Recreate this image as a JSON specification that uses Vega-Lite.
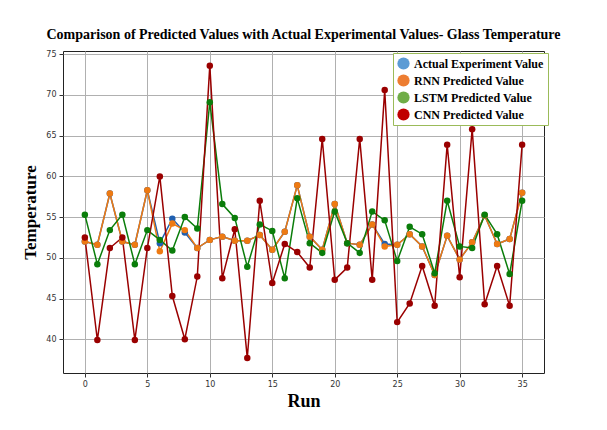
{
  "$schema": "https://vega.github.io/schema/vega-lite/v6.json",
  "width": 481,
  "height": 322,
  "autosize": {"type": "none"},
  "padding": {"left": 63, "top": 51, "right": 63, "bottom": 57},
  "background": "white",
  "title": {
    "text": "Comparison of Predicted Values with Actual Experimental Values- Glass Temperature",
    "font": "Liberation Serif",
    "fontSize": 14,
    "fontWeight": "bold",
    "color": "black",
    "anchor": "middle",
    "offset": 8
  },
  "config": {
    "view": {"stroke": "#222", "strokeWidth": 1},
    "axis": {
      "gridColor": "#b0b0b0",
      "gridWidth": 1,
      "domain": false,
      "tickColor": "#333",
      "tickSize": 4,
      "labelFont": "DejaVu Sans",
      "labelFontSize": 8,
      "labelColor": "#333",
      "titleFont": "Liberation Serif",
      "titleFontWeight": "bold",
      "titleColor": "black"
    }
  },
  "resolve": {"legend": {"color": "independent", "fill": "independent"}},
  "data": {
    "values": [
      {"run": 0, "series": "Actual Experiment Value", "value": 52.0},
      {"run": 1, "series": "Actual Experiment Value", "value": 51.6},
      {"run": 2, "series": "Actual Experiment Value", "value": 57.9},
      {"run": 3, "series": "Actual Experiment Value", "value": 52.0},
      {"run": 4, "series": "Actual Experiment Value", "value": 51.6},
      {"run": 5, "series": "Actual Experiment Value", "value": 58.3},
      {"run": 6, "series": "Actual Experiment Value", "value": 51.8},
      {"run": 7, "series": "Actual Experiment Value", "value": 54.8},
      {"run": 8, "series": "Actual Experiment Value", "value": 53.1},
      {"run": 9, "series": "Actual Experiment Value", "value": 51.2},
      {"run": 10, "series": "Actual Experiment Value", "value": 52.2},
      {"run": 11, "series": "Actual Experiment Value", "value": 52.6},
      {"run": 12, "series": "Actual Experiment Value", "value": 52.1},
      {"run": 13, "series": "Actual Experiment Value", "value": 52.1},
      {"run": 14, "series": "Actual Experiment Value", "value": 52.8},
      {"run": 15, "series": "Actual Experiment Value", "value": 51.0},
      {"run": 16, "series": "Actual Experiment Value", "value": 53.2},
      {"run": 17, "series": "Actual Experiment Value", "value": 58.9},
      {"run": 18, "series": "Actual Experiment Value", "value": 52.6},
      {"run": 19, "series": "Actual Experiment Value", "value": 51.0},
      {"run": 20, "series": "Actual Experiment Value", "value": 56.6},
      {"run": 21, "series": "Actual Experiment Value", "value": 51.8},
      {"run": 22, "series": "Actual Experiment Value", "value": 51.6},
      {"run": 23, "series": "Actual Experiment Value", "value": 54.1},
      {"run": 24, "series": "Actual Experiment Value", "value": 51.7},
      {"run": 25, "series": "Actual Experiment Value", "value": 51.6},
      {"run": 26, "series": "Actual Experiment Value", "value": 52.9},
      {"run": 27, "series": "Actual Experiment Value", "value": 51.4},
      {"run": 28, "series": "Actual Experiment Value", "value": 47.9},
      {"run": 29, "series": "Actual Experiment Value", "value": 52.7},
      {"run": 30, "series": "Actual Experiment Value", "value": 49.8},
      {"run": 31, "series": "Actual Experiment Value", "value": 51.9},
      {"run": 32, "series": "Actual Experiment Value", "value": 55.2},
      {"run": 33, "series": "Actual Experiment Value", "value": 51.7},
      {"run": 34, "series": "Actual Experiment Value", "value": 52.3},
      {"run": 35, "series": "Actual Experiment Value", "value": 58.0},
      {"run": 0, "series": "RNN Predicted Value", "value": 52.0},
      {"run": 1, "series": "RNN Predicted Value", "value": 51.6},
      {"run": 2, "series": "RNN Predicted Value", "value": 57.9},
      {"run": 3, "series": "RNN Predicted Value", "value": 52.0},
      {"run": 4, "series": "RNN Predicted Value", "value": 51.6},
      {"run": 5, "series": "RNN Predicted Value", "value": 58.3},
      {"run": 6, "series": "RNN Predicted Value", "value": 50.8},
      {"run": 7, "series": "RNN Predicted Value", "value": 54.2},
      {"run": 8, "series": "RNN Predicted Value", "value": 53.4},
      {"run": 9, "series": "RNN Predicted Value", "value": 51.2},
      {"run": 10, "series": "RNN Predicted Value", "value": 52.2},
      {"run": 11, "series": "RNN Predicted Value", "value": 52.6},
      {"run": 12, "series": "RNN Predicted Value", "value": 52.1},
      {"run": 13, "series": "RNN Predicted Value", "value": 52.1},
      {"run": 14, "series": "RNN Predicted Value", "value": 52.8},
      {"run": 15, "series": "RNN Predicted Value", "value": 51.0},
      {"run": 16, "series": "RNN Predicted Value", "value": 53.2},
      {"run": 17, "series": "RNN Predicted Value", "value": 58.9},
      {"run": 18, "series": "RNN Predicted Value", "value": 52.6},
      {"run": 19, "series": "RNN Predicted Value", "value": 51.0},
      {"run": 20, "series": "RNN Predicted Value", "value": 56.6},
      {"run": 21, "series": "RNN Predicted Value", "value": 51.8},
      {"run": 22, "series": "RNN Predicted Value", "value": 51.6},
      {"run": 23, "series": "RNN Predicted Value", "value": 54.1},
      {"run": 24, "series": "RNN Predicted Value", "value": 51.4},
      {"run": 25, "series": "RNN Predicted Value", "value": 51.6},
      {"run": 26, "series": "RNN Predicted Value", "value": 52.9},
      {"run": 27, "series": "RNN Predicted Value", "value": 51.4},
      {"run": 28, "series": "RNN Predicted Value", "value": 47.9},
      {"run": 29, "series": "RNN Predicted Value", "value": 52.7},
      {"run": 30, "series": "RNN Predicted Value", "value": 49.8},
      {"run": 31, "series": "RNN Predicted Value", "value": 51.9},
      {"run": 32, "series": "RNN Predicted Value", "value": 55.2},
      {"run": 33, "series": "RNN Predicted Value", "value": 51.7},
      {"run": 34, "series": "RNN Predicted Value", "value": 52.3},
      {"run": 35, "series": "RNN Predicted Value", "value": 58.0},
      {"run": 0, "series": "LSTM Predicted Value", "value": 55.3},
      {"run": 1, "series": "LSTM Predicted Value", "value": 49.2},
      {"run": 2, "series": "LSTM Predicted Value", "value": 53.4},
      {"run": 3, "series": "LSTM Predicted Value", "value": 55.3},
      {"run": 4, "series": "LSTM Predicted Value", "value": 49.2},
      {"run": 5, "series": "LSTM Predicted Value", "value": 53.4},
      {"run": 6, "series": "LSTM Predicted Value", "value": 52.2},
      {"run": 7, "series": "LSTM Predicted Value", "value": 50.9},
      {"run": 8, "series": "LSTM Predicted Value", "value": 55.0},
      {"run": 9, "series": "LSTM Predicted Value", "value": 53.6},
      {"run": 10, "series": "LSTM Predicted Value", "value": 69.1},
      {"run": 11, "series": "LSTM Predicted Value", "value": 56.6},
      {"run": 12, "series": "LSTM Predicted Value", "value": 54.9},
      {"run": 13, "series": "LSTM Predicted Value", "value": 48.9},
      {"run": 14, "series": "LSTM Predicted Value", "value": 54.1},
      {"run": 15, "series": "LSTM Predicted Value", "value": 53.3},
      {"run": 16, "series": "LSTM Predicted Value", "value": 47.5},
      {"run": 17, "series": "LSTM Predicted Value", "value": 57.3},
      {"run": 18, "series": "LSTM Predicted Value", "value": 51.8},
      {"run": 19, "series": "LSTM Predicted Value", "value": 50.6},
      {"run": 20, "series": "LSTM Predicted Value", "value": 55.7},
      {"run": 21, "series": "LSTM Predicted Value", "value": 51.8},
      {"run": 22, "series": "LSTM Predicted Value", "value": 50.6},
      {"run": 23, "series": "LSTM Predicted Value", "value": 55.7},
      {"run": 24, "series": "LSTM Predicted Value", "value": 54.6},
      {"run": 25, "series": "LSTM Predicted Value", "value": 49.6},
      {"run": 26, "series": "LSTM Predicted Value", "value": 53.8},
      {"run": 27, "series": "LSTM Predicted Value", "value": 52.9},
      {"run": 28, "series": "LSTM Predicted Value", "value": 48.1},
      {"run": 29, "series": "LSTM Predicted Value", "value": 57.0},
      {"run": 30, "series": "LSTM Predicted Value", "value": 51.4},
      {"run": 31, "series": "LSTM Predicted Value", "value": 51.2},
      {"run": 32, "series": "LSTM Predicted Value", "value": 55.3},
      {"run": 33, "series": "LSTM Predicted Value", "value": 52.9},
      {"run": 34, "series": "LSTM Predicted Value", "value": 48.0},
      {"run": 35, "series": "LSTM Predicted Value", "value": 57.0},
      {"run": 0, "series": "CNN Predicted Value", "value": 52.5},
      {"run": 1, "series": "CNN Predicted Value", "value": 39.9},
      {"run": 2, "series": "CNN Predicted Value", "value": 51.2},
      {"run": 3, "series": "CNN Predicted Value", "value": 52.5},
      {"run": 4, "series": "CNN Predicted Value", "value": 39.9},
      {"run": 5, "series": "CNN Predicted Value", "value": 51.2},
      {"run": 6, "series": "CNN Predicted Value", "value": 60.0},
      {"run": 7, "series": "CNN Predicted Value", "value": 45.3},
      {"run": 8, "series": "CNN Predicted Value", "value": 40.0},
      {"run": 9, "series": "CNN Predicted Value", "value": 47.7},
      {"run": 10, "series": "CNN Predicted Value", "value": 73.6},
      {"run": 11, "series": "CNN Predicted Value", "value": 47.5},
      {"run": 12, "series": "CNN Predicted Value", "value": 53.5},
      {"run": 13, "series": "CNN Predicted Value", "value": 37.7},
      {"run": 14, "series": "CNN Predicted Value", "value": 57.0},
      {"run": 15, "series": "CNN Predicted Value", "value": 46.9},
      {"run": 16, "series": "CNN Predicted Value", "value": 51.7},
      {"run": 17, "series": "CNN Predicted Value", "value": 50.7},
      {"run": 18, "series": "CNN Predicted Value", "value": 48.8},
      {"run": 19, "series": "CNN Predicted Value", "value": 64.6},
      {"run": 20, "series": "CNN Predicted Value", "value": 47.3},
      {"run": 21, "series": "CNN Predicted Value", "value": 48.8},
      {"run": 22, "series": "CNN Predicted Value", "value": 64.6},
      {"run": 23, "series": "CNN Predicted Value", "value": 47.3},
      {"run": 24, "series": "CNN Predicted Value", "value": 70.6},
      {"run": 25, "series": "CNN Predicted Value", "value": 42.1},
      {"run": 26, "series": "CNN Predicted Value", "value": 44.4},
      {"run": 27, "series": "CNN Predicted Value", "value": 49.0},
      {"run": 28, "series": "CNN Predicted Value", "value": 44.1},
      {"run": 29, "series": "CNN Predicted Value", "value": 63.9},
      {"run": 30, "series": "CNN Predicted Value", "value": 47.6},
      {"run": 31, "series": "CNN Predicted Value", "value": 65.8},
      {"run": 32, "series": "CNN Predicted Value", "value": 44.3},
      {"run": 33, "series": "CNN Predicted Value", "value": 49.0},
      {"run": 34, "series": "CNN Predicted Value", "value": 44.1},
      {"run": 35, "series": "CNN Predicted Value", "value": 63.9}
    ]
  },
  "encoding": {
    "x": {
      "field": "run",
      "type": "quantitative",
      "scale": {"domain": [-1.75, 36.75], "nice": false, "zero": false},
      "axis": {"values": [0, 5, 10, 15, 20, 25, 30, 35], "title": "Run", "titleFontSize": 18, "titlePadding": 4, "labelPadding": 3}
    },
    "y": {
      "field": "value",
      "type": "quantitative",
      "scale": {"domain": [35.85, 75.4], "nice": false, "zero": false},
      "axis": {"values": [40, 45, 50, 55, 60, 65, 70, 75], "title": "Temperature", "titleFontSize": 17, "titlePadding": 6, "labelPadding": 3}
    }
  },
  "layer": [
    {
      "mark": {"type": "line", "strokeWidth": 1.5},
      "encoding": {
        "color": {
          "field": "series",
          "type": "nominal",
          "scale": {
            "domain": ["Actual Experiment Value", "RNN Predicted Value", "LSTM Predicted Value", "CNN Predicted Value"],
            "range": ["#1f5fb0", "#ee7a12", "#0a7d0a", "#9a0000"]
          },
          "legend": null
        }
      }
    },
    {
      "mark": {"type": "point", "filled": true, "size": 42, "opacity": 1},
      "encoding": {
        "color": {"field": "series", "type": "nominal", "legend": null}
      }
    },
    {
      "mark": {"type": "point", "filled": true, "opacity": 0},
      "encoding": {
        "fill": {
          "field": "series",
          "type": "nominal",
          "scale": {
            "domain": ["Actual Experiment Value", "RNN Predicted Value", "LSTM Predicted Value", "CNN Predicted Value"],
            "range": ["#5b9bd5", "#ed7d31", "#70ad47", "#c00000"]
          },
          "legend": {
            "orient": "none",
            "legendX": 330,
            "legendY": 2,
            "title": null,
            "symbolType": "circle",
            "symbolSize": 150,
            "symbolOpacity": 1,
            "symbolStrokeWidth": 0,
            "labelFont": "Liberation Serif",
            "labelFontWeight": "bold",
            "labelFontSize": 12,
            "labelColor": "black",
            "labelOffset": 4,
            "padding": 4,
            "rowPadding": 4,
            "strokeColor": "#9bbb59",
            "fillColor": "white"
          }
        }
      }
    }
  ]
}
